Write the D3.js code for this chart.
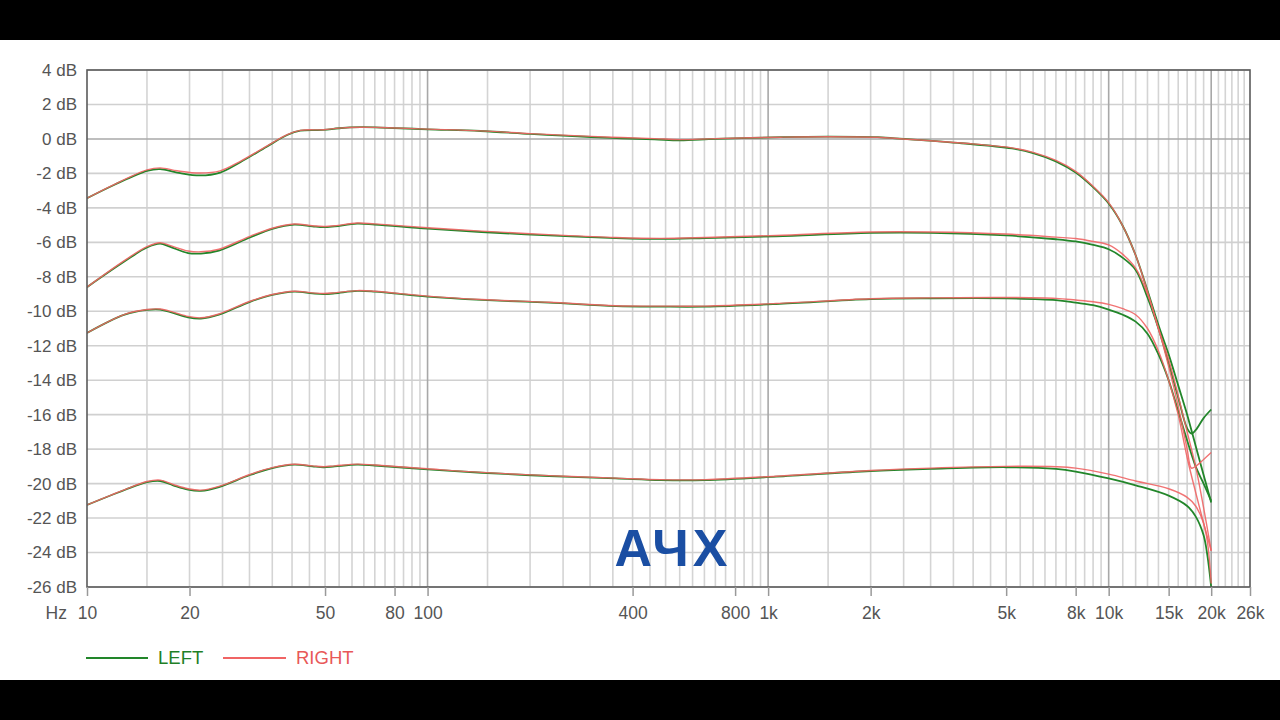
<!DOCTYPE html>
<html>
<head>
<meta charset="utf-8">
<script src="https://cdn.jsdelivr.net/npm/d3@7"></script>
<style>
html,body{margin:0;padding:0;background:#000;}
svg{display:block;}
</style>
</head>
<body>
<svg id="chart" width="1280" height="720"></svg>
<script>
// ---------- data ----------
const xTickValues = [10, 20, 50, 80, 100, 400, 800, 1000, 2000, 5000, 8000, 10000, 15000, 20000, 26000];
const xTickLabels = ["10", "20", "50", "80", "100", "400", "800", "1k", "2k", "5k", "8k", "10k", "15k", "20k", "26k"];
const yTickValues = [4, 2, 0, -2, -4, -6, -8, -10, -12, -14, -16, -18, -20, -22, -24, -26];
const yTickLabels = ["4 dB", "2 dB", "0 dB", "-2 dB", "-4 dB", "-6 dB", "-8 dB", "-10 dB", "-12 dB", "-14 dB", "-16 dB", "-18 dB", "-20 dB", "-22 dB", "-24 dB", "-26 dB"];
const seriesNames = ["LEFT", "RIGHT"];

const c1Freq = [10, 12, 15, 16.4, 18.4, 21.5, 24.6, 28.2, 33.7, 38.7, 42.3, 49.5, 55, 63.6, 72.7, 100, 143, 200, 250, 348, 464, 550, 700, 1090, 1500, 2100, 2500, 3700, 5200, 6000, 7000, 8000, 9000, 10000, 11000, 12000, 13000, 14000, 15000, 16000, 17000, 18000, 19000, 20000];
const c1Left = [-3.44, -2.67, -1.85, -1.75, -1.95, -2.12, -1.95, -1.35, -0.45, 0.23, 0.48, 0.52, 0.62, 0.68, 0.66, 0.56, 0.46, 0.29, 0.19, 0.06, -0.02, -0.08, 0.0, 0.1, 0.13, 0.1, 0.0, -0.25, -0.55, -0.82, -1.3, -1.95, -2.8, -3.75, -5.05, -6.75, -8.8, -10.8, -12.5, -14.3, -16.0, -17.8, -19.5, -21.1];
const c1Right = [-3.44, -2.65, -1.8, -1.68, -1.85, -1.98, -1.85, -1.3, -0.42, 0.25, 0.5, 0.53, 0.63, 0.68, 0.66, 0.57, 0.47, 0.31, 0.22, 0.1, 0.02, -0.04, 0.02, 0.1, 0.13, 0.1, 0.0, -0.24, -0.52, -0.78, -1.25, -1.88, -2.75, -3.7, -5.05, -6.75, -8.85, -11.0, -12.8, -14.9, -17.0, -19.0, -21.4, -23.9];

const c2Freq = [10, 12.9, 15, 16.4, 17.5, 19.8, 21.6, 24.4, 30.1, 35, 40.6, 45.9, 49.5, 53.4, 62.1, 70, 100, 144, 227, 357, 484, 654, 1055, 2000, 3000, 5000, 7000, 8000, 9000, 10000, 11000, 12000, 13000, 14000, 15000, 16000, 17000, 17500, 18000, 19000, 20000];
const c2Left = [-8.6, -7.1, -6.3, -6.08, -6.25, -6.62, -6.65, -6.48, -5.72, -5.22, -4.97, -5.07, -5.12, -5.07, -4.92, -4.97, -5.2, -5.4, -5.6, -5.75, -5.8, -5.75, -5.65, -5.45, -5.45, -5.6, -5.82, -5.95, -6.15, -6.4, -6.9, -7.6, -9.2, -11.0, -13.0, -15.0, -16.8, -17.1, -16.9, -16.2, -15.7];
const c2Right = [-8.6, -7.05, -6.25, -6.02, -6.18, -6.5, -6.55, -6.4, -5.65, -5.18, -4.94, -5.04, -5.08, -5.04, -4.88, -4.93, -5.15, -5.35, -5.55, -5.72, -5.77, -5.72, -5.6, -5.4, -5.4, -5.52, -5.7, -5.78, -5.95, -6.15, -6.7, -7.5, -9.0, -11.0, -13.2, -15.5, -18.0, -19.1, -19.0, -18.6, -18.2];

const c3Freq = [10, 12.9, 15, 16.4, 17.9, 19.8, 21.6, 24.4, 30.1, 35, 40.6, 45.9, 49.5, 53.4, 62.1, 70, 100, 144, 227, 357, 484, 654, 1055, 2000, 3000, 5000, 7000, 8000, 9000, 10000, 11000, 12000, 13000, 14000, 15000, 16000, 17000, 18000, 19000, 20000];
const c3Left = [-11.26, -10.2, -9.92, -9.9, -10.1, -10.35, -10.42, -10.2, -9.45, -9.05, -8.86, -8.96, -9.0, -8.96, -8.82, -8.86, -9.15, -9.34, -9.5, -9.7, -9.73, -9.73, -9.58, -9.3, -9.25, -9.25, -9.35, -9.5, -9.65, -9.9, -10.2, -10.6, -11.3, -12.5, -14.0, -15.8, -17.5, -19.0, -20.0, -21.0];
const c3Right = [-11.26, -10.18, -9.9, -9.87, -10.05, -10.3, -10.38, -10.16, -9.42, -9.03, -8.84, -8.93, -8.97, -8.93, -8.8, -8.84, -9.12, -9.32, -9.48, -9.68, -9.7, -9.7, -9.55, -9.27, -9.22, -9.2, -9.25, -9.35, -9.45, -9.6, -9.85, -10.2, -11.0, -12.3, -14.0, -16.0, -18.5, -20.5, -22.3, -23.9];

const c4Freq = [10, 12.9, 15, 16.4, 17.9, 19.8, 21.6, 24.4, 30.1, 35, 40.6, 45.9, 49.5, 53.4, 62.1, 70, 100, 144, 227, 357, 484, 654, 1055, 2000, 3000, 5000, 7000, 8000, 10000, 12000, 15000, 17000, 18000, 19000, 19500, 20000];
const c4Left = [-21.24, -20.37, -19.92, -19.85, -20.1, -20.35, -20.42, -20.2, -19.5, -19.1, -18.9, -19.0, -19.05, -19.0, -18.9, -18.95, -19.17, -19.37, -19.56, -19.7, -19.8, -19.8, -19.6, -19.27, -19.15, -19.05, -19.15, -19.3, -19.7, -20.1, -20.7, -21.3, -21.9, -23.0, -24.2, -26.0];
const c4Right = [-21.24, -20.35, -19.88, -19.8, -20.05, -20.3, -20.38, -20.16, -19.47, -19.07, -18.88, -18.97, -19.02, -18.97, -18.87, -18.92, -19.14, -19.35, -19.54, -19.68, -19.77, -19.77, -19.57, -19.24, -19.1, -19.0, -19.02, -19.1, -19.45, -19.85, -20.3, -20.8, -21.3, -22.3, -23.4, -25.8];

const titleText = "АЧХ";

// ---------- layout ----------
const W = 1280, H = 720;
const plot = {left: 87, right: 1250, top: 70, bottom: 587};
const colors = {left: "#22862a", right: "#f06464"};
const fontFamily = "Liberation Sans, Arial, sans-serif";

const svg = d3.select("#chart");
svg.append("rect").attr("x", 0).attr("y", 0).attr("width", W).attr("height", H).attr("fill", "#000");
svg.append("rect").attr("x", 0).attr("y", 40).attr("width", W).attr("height", 640).attr("fill", "#fff");

const x = d3.scaleLog().domain([10, 26000]).range([plot.left, plot.right]);
const y = d3.scaleLinear().domain([-26, 4]).range([plot.bottom, plot.top]);

// ---------- grid ----------
const minorX = [];
[10, 100, 1000].forEach(d => {
  for (let m = 1.5; m <= 9.51; m += 0.5) minorX.push(d * m);
});
for (let k = 11; k <= 25; k++) minorX.push(k * 1000);
const majorX = [100, 1000, 10000, 20000];

const grid = svg.append("g");
grid.selectAll("line.minx").data(minorX.filter(v => !majorX.includes(v))).join("line")
  .attr("x1", d => x(d)).attr("x2", d => x(d))
  .attr("y1", plot.top).attr("y2", plot.bottom)
  .attr("stroke", "#d4d4d4").attr("stroke-width", 1.6);
grid.selectAll("line.gy").data(yTickValues.filter(v => v !== 0)).join("line")
  .attr("x1", plot.left).attr("x2", plot.right)
  .attr("y1", d => y(d)).attr("y2", d => y(d))
  .attr("stroke", "#d0d0d0").attr("stroke-width", 1.6);
grid.selectAll("line.majx").data(majorX).join("line")
  .attr("x1", d => x(d)).attr("x2", d => x(d))
  .attr("y1", plot.top).attr("y2", plot.bottom)
  .attr("stroke", "#a8a8a8").attr("stroke-width", 1.6);
grid.append("line")
  .attr("x1", plot.left).attr("x2", plot.right)
  .attr("y1", y(0)).attr("y2", y(0))
  .attr("stroke", "#a8a8a8").attr("stroke-width", 1.6);

// ---------- curves ----------
svg.append("defs").append("clipPath").attr("id", "clip")
  .append("rect").attr("x", plot.left).attr("y", plot.top)
  .attr("width", plot.right - plot.left).attr("height", plot.bottom - plot.top);

const line = d3.line().x(d => x(d[0])).y(d => y(d[1])).curve(d3.curveCatmullRom.alpha(0.5));
const curves = [
  [c1Freq, c1Left, c1Right],
  [c2Freq, c2Left, c2Right],
  [c3Freq, c3Left, c3Right],
  [c4Freq, c4Left, c4Right]
];
const gCurves = svg.append("g").attr("clip-path", "url(#clip)");
curves.forEach(([f, l]) => {
  gCurves.append("path").datum(f.map((v, i) => [v, l[i]]))
    .attr("d", line).attr("fill", "none")
    .attr("stroke", colors.left).attr("stroke-width", 1.8);
});
curves.forEach(([f, l, r]) => {
  gCurves.append("path").datum(f.map((v, i) => [v, r[i]]))
    .attr("d", line).attr("fill", "none")
    .attr("stroke", colors.right).attr("stroke-width", 1.4).attr("stroke-opacity", 0.9);
});

// ---------- border ----------
svg.append("rect").attr("x", plot.left).attr("y", plot.top)
  .attr("width", plot.right - plot.left).attr("height", plot.bottom - plot.top)
  .attr("fill", "none").attr("stroke", "#5a5a5a").attr("stroke-width", 1.6);

// ---------- axes ----------
const xAxis = d3.axisBottom(x).tickValues(xTickValues)
  .tickFormat((d, i) => xTickLabels[i]).tickSize(9).tickPadding(11);
const gx = svg.append("g").attr("transform", `translate(0,${plot.bottom})`).call(xAxis);
gx.select(".domain").remove();
gx.selectAll(".tick line").attr("stroke", "#999").attr("stroke-width", 1.5);
gx.selectAll(".tick text").attr("fill", "#555").attr("font-size", 17.5)
  .attr("font-family", fontFamily);
svg.append("text").attr("x", 67).attr("y", 619).attr("text-anchor", "end")
  .attr("fill", "#555").attr("font-size", 17.5)
  .attr("font-family", fontFamily).text("Hz");

const yAxis = d3.axisLeft(y).tickValues(yTickValues)
  .tickFormat((d, i) => yTickLabels[i]).tickSize(0).tickPadding(10);
const gy = svg.append("g").attr("transform", `translate(${plot.left},0)`).call(yAxis);
gy.select(".domain").remove();
gy.selectAll(".tick text").attr("fill", "#555").attr("font-size", 17)
  .attr("font-family", fontFamily);

// ---------- legend ----------
const legend = [
  {name: seriesNames[0], color: colors.left, text: "#1f7f27", x1: 86, x2: 148, tx: 158},
  {name: seriesNames[1], color: colors.right, text: "#e85858", x1: 223, x2: 286, tx: 296}
];
const gl = svg.append("g");
legend.forEach(d => {
  gl.append("line").attr("x1", d.x1).attr("x2", d.x2).attr("y1", 658).attr("y2", 658)
    .attr("stroke", d.color).attr("stroke-width", 2.2);
  gl.append("text").attr("x", d.tx).attr("y", 664).attr("fill", d.text)
    .attr("font-size", 18.5).attr("font-family", fontFamily).text(d.name);
});

// ---------- title ----------
svg.append("text").attr("x", 673).attr("y", 566).attr("text-anchor", "middle")
  .attr("fill", "#1a4ea3").attr("font-size", 52).attr("font-weight", "bold")
  .attr("letter-spacing", 4)
  .attr("font-family", fontFamily).text(titleText);
</script>
</body>
</html>
